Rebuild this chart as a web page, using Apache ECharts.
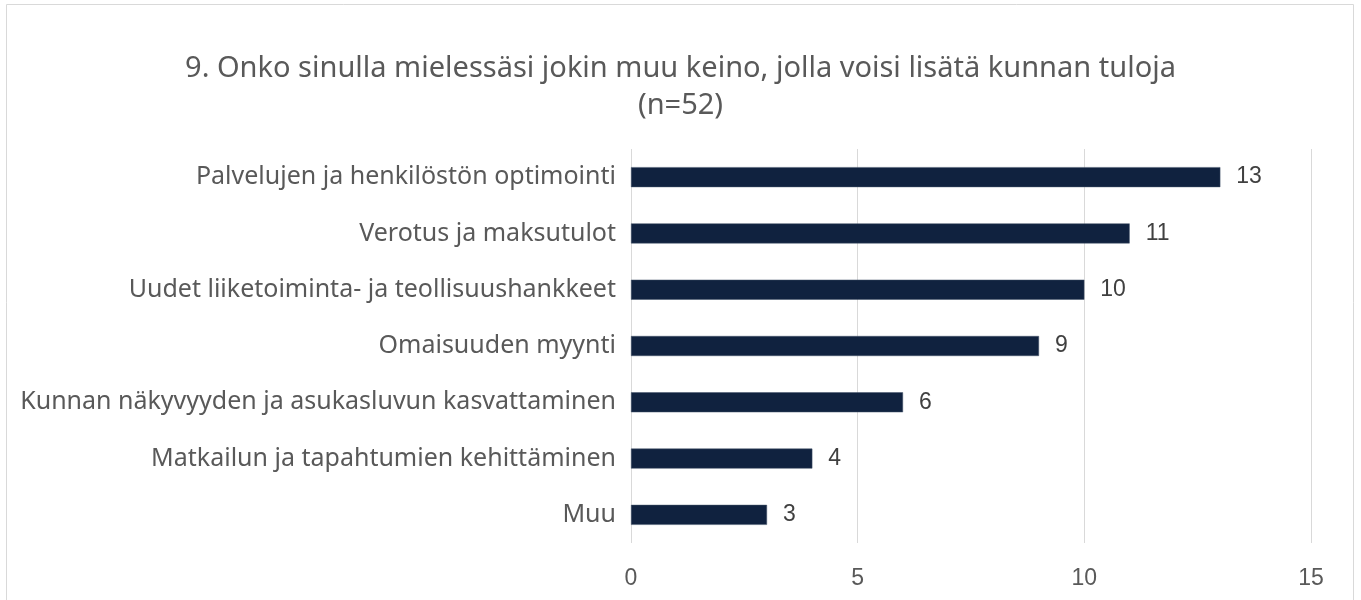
<!DOCTYPE html>
<html>
<head>
<meta charset="utf-8">
<script src="https://cdn.jsdelivr.net/npm/echarts@6/dist/echarts.min.js"></script>
<style>
  html, body { margin: 0; padding: 0; background: #fff; }
  #chart { width: 1361px; height: 600px; }
</style>
</head>
<body>
<div id="chart"></div>
<script>
// data
var categories = [
    'Palvelujen ja henkilöstön optimointi',
    'Verotus ja maksutulot',
    'Uudet liiketoiminta- ja teollisuushankkeet',
    'Omaisuuden myynti',
    'Kunnan näkyvyyden ja asukasluvun kasvattaminen',
    'Matkailun ja tapahtumien kehittäminen',
    'Muu'
];
var counts = [13, 11, 10, 9, 6, 4, 3];
var titleLines = ['9. Onko sinulla mielessäsi jokin muu keino, jolla voisi lisätä kunnan tuloja', '(n=52)'];

var myChart = echarts.init(document.getElementById('chart'));

var option = {
    animation: false,
    textStyle: { fontFamily: 'Noto Sans' },
    title: {
        text: titleLines.join('\n'),
        left: 'center',
        top: 45,
        textStyle: {
            fontFamily: 'Noto Sans',
            fontSize: 29,
            fontWeight: 'normal',
            color: '#595959',
            lineHeight: 37
        }
    },
    graphic: [{
        type: 'rect',
        shape: { x: 6.5, y: 4.5, width: 1347, height: 610 },
        style: { fill: 'none', stroke: '#d9d9d9', lineWidth: 1 },
        silent: true
    }],
    grid: {
        left: 631,
        right: 50,
        top: 149,
        bottom: 57
    },
    xAxis: {
        type: 'value',
        min: 0,
        max: 15,
        interval: 5,
        axisLine: { show: false },
        axisTick: { show: false },
        splitLine: { lineStyle: { color: '#d9d9d9', width: 1 } },
        axisLabel: { fontFamily: 'Liberation Sans', fontSize: 23, color: '#595959', margin: 24 }
    },
    yAxis: {
        type: 'category',
        inverse: true,
        data: categories,
        axisLine: { show: false },
        axisTick: { show: false },
        axisLabel: { fontSize: 25, color: '#595959', margin: 15 }
    },
    series: [{
        type: 'bar',
        data: counts,
        barWidth: 20,
        itemStyle: { color: '#10223f', borderColor: '#44546a', borderWidth: 0.5 },
        label: {
            show: true,
            position: 'right',
            distance: 16,
            fontFamily: 'Liberation Sans',
            fontSize: 23,
            color: '#404040'
        }
    }]
};

myChart.setOption(option);
</script>
</body>
</html>
